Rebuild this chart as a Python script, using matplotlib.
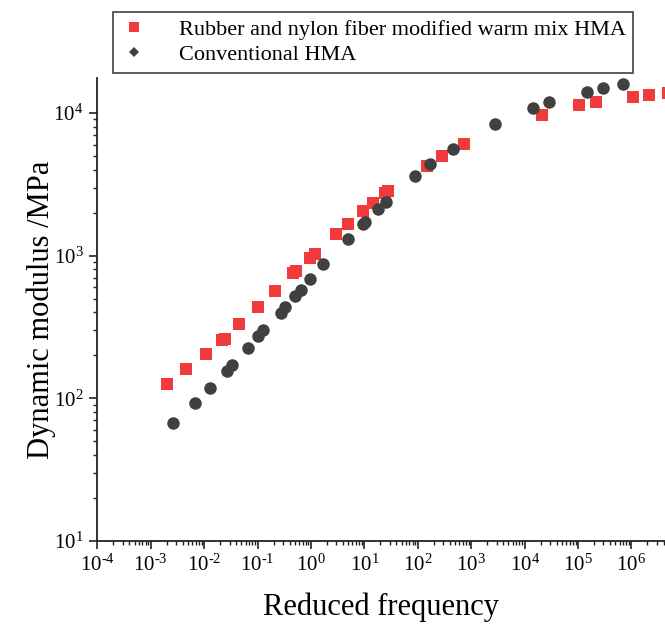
import numpy as np
import matplotlib
matplotlib.use("Agg")
import matplotlib.pyplot as plt
from matplotlib.ticker import LogLocator, NullFormatter, FuncFormatter
from matplotlib.lines import Line2D

# ===============================
# DATA
# ===============================
rubber_freq = [2.05e-3, 4.5e-3, 1.07e-2, 2.14e-2, 2.41e-2, 4.56e-2, 0.104, 0.214,
               0.468, 0.526, 0.962, 1.19, 2.95, 4.95, 9.33, 14.4, 24.4, 28.1,
               146, 281, 727, 2.15e4, 1.05e5, 2.15e5, 1.06e6, 2.17e6, 4.9e6]
rubber_mod = [126, 160, 204, 256, 262, 330, 436, 569,
              759, 786, 967, 1026, 1413, 1665, 2044, 2349, 2734, 2851,
              4246, 5027, 6085, 9667, 11350, 11920, 12860, 13340, 13780]

conv_freq = [2.65e-3, 6.76e-3, 1.31e-2, 2.65e-2, 3.36e-2, 6.64e-2, 0.104, 0.129,
             0.275, 0.327, 0.503, 0.647, 0.975, 1.69, 4.95, 9.33, 10.3, 18.3,
             25.5, 88.9, 170, 452, 2840, 1.425e4, 2.9e4, 1.46e5, 2.89e5, 7.08e5]
conv_mod = [66.8, 92.3, 117.5, 155, 171, 224, 273, 301,
            399, 436, 519, 577, 687, 870, 1303, 1665, 1727, 2112,
            2387, 3612, 4365, 5559, 8356, 10820, 11860, 13940, 14870, 15940]

label_rubber = "Rubber and nylon fiber modified warm mix HMA"
label_conv = "Conventional HMA"

RED = "#F03A3C"
DARK = "#404040"

# ===============================
# FONTS
# ===============================
plt.rcParams["font.family"] = ["Liberation Serif", "DejaVu Serif"]
plt.rcParams["mathtext.fontset"] = "custom"
plt.rcParams["mathtext.rm"] = "Liberation Serif"
plt.rcParams["mathtext.it"] = "Liberation Serif:italic"
plt.rcParams["mathtext.bf"] = "Liberation Serif:bold"


def pow10(v, pos):
    # short hyphen in the exponent, like the original
    e = int(round(np.log10(v)))
    sign = "\u2010" if e < 0 else ""
    return "$\\mathdefault{10^{" + sign + str(abs(e)) + "}}$"


# ===============================
# FIGURE
# ===============================
fig = plt.figure(figsize=(6.65, 6.28), dpi=100)
ax = fig.add_axes([0.1463, 0.1385, 1.0 - 0.1463, 0.7373])

ax.plot(rubber_freq, rubber_mod, linestyle="none", marker="s", markersize=8.5,
        color=RED, markeredgewidth=0)
ax.plot(conv_freq, conv_mod, linestyle="none", marker="o", markersize=9,
        color=DARK, markeredgewidth=0)

ax.set_xscale("log")
ax.set_yscale("log")
ax.set_xlim(1e-4, 10 ** 6.63)
ax.set_ylim(10, 10 ** 4.245)

ax.xaxis.set_major_locator(LogLocator(base=10, numticks=30))
ax.xaxis.set_minor_locator(LogLocator(base=10, subs=np.arange(2, 10), numticks=30))
ax.xaxis.set_major_formatter(FuncFormatter(pow10))
ax.xaxis.set_minor_formatter(NullFormatter())
ax.yaxis.set_major_locator(LogLocator(base=10, numticks=30))
ax.yaxis.set_minor_locator(LogLocator(base=10, subs=np.arange(2, 10), numticks=30))
ax.yaxis.set_major_formatter(FuncFormatter(pow10))
ax.yaxis.set_minor_formatter(NullFormatter())

# image is cropped on top/right in the original, so no frame there
ax.spines["top"].set_visible(False)
ax.spines["right"].set_visible(False)
for s in ("left", "bottom"):
    ax.spines[s].set_linewidth(1.3)
    ax.spines[s].set_color("#222222")

ax.tick_params(which="major", direction="out", length=6, width=1.2,
               labelsize=15, pad=4, colors="#222222", labelcolor="black")
ax.tick_params(which="minor", direction="out", length=3, width=1.0, colors="#222222")

ax.set_xlabel("Reduced frequency", fontsize=22, labelpad=12)
ax.set_ylabel("Dynamic modulus /MPa", fontsize=22, labelpad=-2)

# legend sits above the axes, like the original
handles = [
    Line2D([], [], linestyle="none", marker="s", markersize=7, color=RED, markeredgewidth=0),
    Line2D([], [], linestyle="none", marker="D", markersize=5.5, color=DARK, markeredgewidth=0),
]
leg = fig.legend(handles, [label_rubber, label_conv], loc="upper left",
                 bbox_to_anchor=(0.170, 0.981), borderaxespad=0, frameon=True,
                 fancybox=False, fontsize=16, handlelength=1.2, handletextpad=1.4,
                 borderpad=0.35, labelspacing=0.2)
leg.get_frame().set_edgecolor("#222222")
leg.get_frame().set_linewidth(1.3)

fig.savefig("out.png", dpi=100)
